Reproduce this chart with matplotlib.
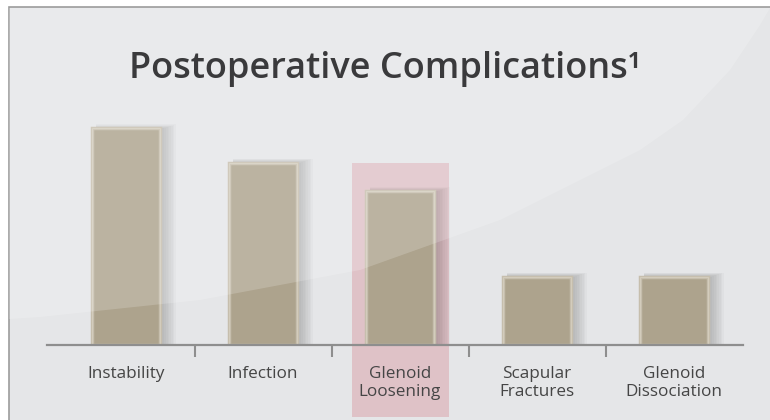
import numpy as np
import matplotlib
matplotlib.use("Agg")
import matplotlib.pyplot as plt
from matplotlib.patches import Rectangle, Polygon
import matplotlib.transforms as mtransforms

# données (unités arbitraires)
categories = ["Instability", "Infection", "Glenoid\nLoosening", "Scapular\nFractures", "Glenoid\nDissociation"]
values = [38, 32, 27, 12, 12]
highlight = "Glenoid\nLoosening"

W, H = 770, 420
plt.rcParams['font.family'] = ['Open Sans', 'DejaVu Sans']

fig = plt.figure(figsize=(W / 100, H / 100), dpi=100)
fig.patch.set_facecolor('white')


def px(x, y):
    # pixels -> fraction de la figure
    return (x / W, 1 - y / H)


# fond : cadre gris clair
bg = fig.add_axes([0, 0, 1, 1], zorder=0)
bg.set_xlim(0, W)
bg.set_ylim(H, 0)
bg.axis('off')
bg.add_patch(Rectangle((9, 7), 770, 420, facecolor='#e5e6e8', edgecolor='#9c9c9c', lw=1.2))

# axes principaux
x0, x1, ybase, ytop = 47, 743, 345, 100
ax = fig.add_axes([x0 / W, 1 - ybase / H, (x1 - x0) / W, (ybase - ytop) / H], zorder=1)
ax.patch.set_alpha(0)
ax.set_xlim(-0.577, -0.577 + (x1 - x0) / 137)
ax.set_ylim(0, (ybase - ytop) / 5.7)

pos = np.arange(len(categories))

# bande rose derrière la catégorie mise en avant
trans = mtransforms.blended_transform_factory(ax.transData, fig.transFigure)
hi = categories.index(highlight)
ax.add_patch(Rectangle((hi - 0.352, px(0, 417)[1]), 0.708, px(0, 163)[1] - px(0, 417)[1],
                       transform=trans, facecolor='#dfc2c7', edgecolor='none',
                       zorder=0.5, clip_on=False))

# ombre portée (surtout à droite)
for k in range(8):
    ax.bar(pos + 0.03 + 0.006 * k, np.array(values) + 0.1 * k, width=0.5 + 0.012 * k,
           color='black', alpha=0.025, linewidth=0, zorder=1)

bw = 0.5
ax.bar(pos, values, width=bw, color='#ada38d', edgecolor='#c6bead', linewidth=2.5, zorder=2)
ax.bar(pos, values, width=bw, color='none', edgecolor='#d3ccbc', linewidth=0.8, zorder=2.1)

for s in ['top', 'right', 'left']:
    ax.spines[s].set_visible(False)
ax.spines['bottom'].set_color('#8e8e8e')
ax.spines['bottom'].set_linewidth(1.6)
ax.set_yticks([])
ax.set_xticks(pos)
ax.set_xticklabels(categories, fontsize=12.3, color='#454545', linespacing=1.22)
ax.tick_params(axis='x', which='major', length=0, pad=15)
ax.set_xticks(pos[:-1] + 0.5, minor=True)
ax.tick_params(axis='x', which='minor', length=8.5, width=1.5, color='#8e8e8e', direction='out')

# reflet blanc (courbe décorative)
top = fig.add_axes([0, 0, 1, 1], zorder=3)
top.set_xlim(0, W)
top.set_ylim(H, 0)
top.axis('off')
cx = np.array([9, 40, 200, 360, 500, 640, 683, 730, 760, 770])
cy = np.array([319, 317, 300, 270, 220, 150, 120, 70, 25, 8])
poly = np.vstack([np.column_stack([cx, cy]), [[770, 8], [9, 8]]])
top.add_patch(Polygon(poly, closed=True, facecolor='white', edgecolor='none', alpha=0.18))

fig.text(0.5, px(0, 78)[1], "Postoperative Complications\u00b9", ha='center', va='baseline',
         fontsize=26, fontweight='semibold', color='#3a3a3c', zorder=4)

fig.savefig("out.png", dpi=100, facecolor=fig.get_facecolor())
